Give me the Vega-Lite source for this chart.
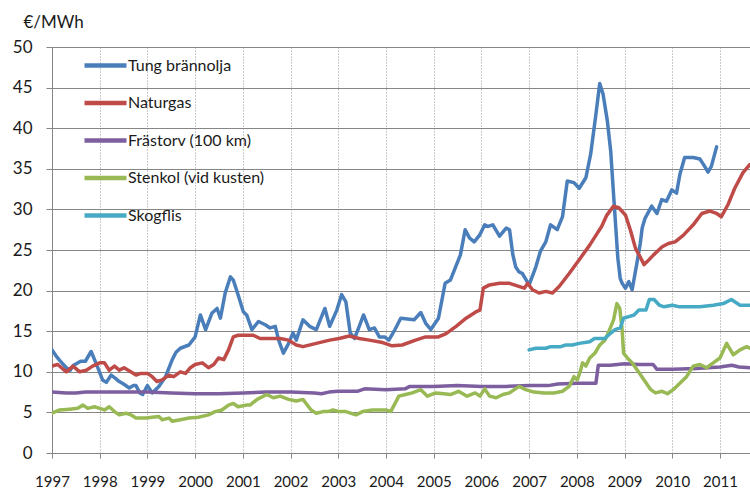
{
  "$schema": "https://vega.github.io/schema/vega-lite/v6.json",
  "autosize": {"type": "none"},
  "padding": {"left": 52, "top": 47, "right": 0, "bottom": 35},
  "width": 698,
  "height": 406,
  "background": "white",
  "config": {
    "view": {"stroke": null},
    "font": "Lato",
    "axis": {"labelFont": "Lato", "titleFont": "Lato", "labelColor": "#1a1a1a", "titleColor": "#1a1a1a"},
    "legend": {"labelFont": "Lato"}
  },
  "data": {"values": [
{"s":"Tung brännolja","t":1997.0,"v":12.7},{"s":"Tung brännolja","t":1997.08,"v":12.0},{"s":"Tung brännolja","t":1997.16,"v":11.4},{"s":"Tung brännolja","t":1997.30,"v":10.5},{"s":"Tung brännolja","t":1997.38,"v":10.2},{"s":"Tung brännolja","t":1997.45,"v":10.8},{"s":"Tung brännolja","t":1997.51,"v":11.0},{"s":"Tung brännolja","t":1997.6,"v":11.3},{"s":"Tung brännolja","t":1997.7,"v":11.3},{"s":"Tung brännolja","t":1997.82,"v":12.5},{"s":"Tung brännolja","t":1997.92,"v":11.1},{"s":"Tung brännolja","t":1998.06,"v":9.0},{"s":"Tung brännolja","t":1998.14,"v":8.7},{"s":"Tung brännolja","t":1998.24,"v":9.6},{"s":"Tung brännolja","t":1998.33,"v":9.2},{"s":"Tung brännolja","t":1998.41,"v":8.8},{"s":"Tung brännolja","t":1998.5,"v":8.5},{"s":"Tung brännolja","t":1998.62,"v":8.0},{"s":"Tung brännolja","t":1998.7,"v":8.3},{"s":"Tung brännolja","t":1998.76,"v":8.3},{"s":"Tung brännolja","t":1998.84,"v":7.4},{"s":"Tung brännolja","t":1998.9,"v":7.2},{"s":"Tung brännolja","t":1999.0,"v":8.3},{"s":"Tung brännolja","t":1999.1,"v":7.4},{"s":"Tung brännolja","t":1999.24,"v":8.2},{"s":"Tung brännolja","t":1999.38,"v":9.4},{"s":"Tung brännolja","t":1999.52,"v":11.5},{"s":"Tung brännolja","t":1999.6,"v":12.4},{"s":"Tung brännolja","t":1999.69,"v":12.9},{"s":"Tung brännolja","t":1999.87,"v":13.3},{"s":"Tung brännolja","t":2000.0,"v":14.3},{"s":"Tung brännolja","t":2000.11,"v":17.0},{"s":"Tung brännolja","t":2000.22,"v":15.2},{"s":"Tung brännolja","t":2000.35,"v":17.2},{"s":"Tung brännolja","t":2000.46,"v":17.8},{"s":"Tung brännolja","t":2000.53,"v":16.6},{"s":"Tung brännolja","t":2000.63,"v":19.7},{"s":"Tung brännolja","t":2000.74,"v":21.7},{"s":"Tung brännolja","t":2000.8,"v":21.3},{"s":"Tung brännolja","t":2000.91,"v":19.3},{"s":"Tung brännolja","t":2001.01,"v":17.4},{"s":"Tung brännolja","t":2001.08,"v":17.0},{"s":"Tung brännolja","t":2001.19,"v":15.2},{"s":"Tung brännolja","t":2001.33,"v":16.2},{"s":"Tung brännolja","t":2001.47,"v":15.8},{"s":"Tung brännolja","t":2001.57,"v":15.4},{"s":"Tung brännolja","t":2001.68,"v":15.6},{"s":"Tung brännolja","t":2001.75,"v":13.9},{"s":"Tung brännolja","t":2001.85,"v":12.3},{"s":"Tung brännolja","t":2001.96,"v":13.5},{"s":"Tung brännolja","t":2002.05,"v":14.8},{"s":"Tung brännolja","t":2002.12,"v":13.9},{"s":"Tung brännolja","t":2002.26,"v":16.4},{"s":"Tung brännolja","t":2002.40,"v":15.6},{"s":"Tung brännolja","t":2002.54,"v":15.2},{"s":"Tung brännolja","t":2002.72,"v":17.8},{"s":"Tung brännolja","t":2002.82,"v":15.6},{"s":"Tung brännolja","t":2002.97,"v":17.6},{"s":"Tung brännolja","t":2003.07,"v":19.5},{"s":"Tung brännolja","t":2003.16,"v":18.6},{"s":"Tung brännolja","t":2003.25,"v":14.8},{"s":"Tung brännolja","t":2003.34,"v":14.1},{"s":"Tung brännolja","t":2003.44,"v":15.6},{"s":"Tung brännolja","t":2003.53,"v":17.0},{"s":"Tung brännolja","t":2003.65,"v":15.2},{"s":"Tung brännolja","t":2003.76,"v":15.4},{"s":"Tung brännolja","t":2003.86,"v":14.3},{"s":"Tung brännolja","t":2003.97,"v":14.3},{"s":"Tung brännolja","t":2004.06,"v":13.9},{"s":"Tung brännolja","t":2004.17,"v":15.0},{"s":"Tung brännolja","t":2004.31,"v":16.6},{"s":"Tung brännolja","t":2004.45,"v":16.5},{"s":"Tung brännolja","t":2004.59,"v":16.4},{"s":"Tung brännolja","t":2004.73,"v":17.3},{"s":"Tung brännolja","t":2004.83,"v":16.0},{"s":"Tung brännolja","t":2004.94,"v":15.2},{"s":"Tung brännolja","t":2005.10,"v":16.6},{"s":"Tung brännolja","t":2005.24,"v":20.9},{"s":"Tung brännolja","t":2005.35,"v":21.3},{"s":"Tung brännolja","t":2005.56,"v":24.4},{"s":"Tung brännolja","t":2005.66,"v":27.5},{"s":"Tung brännolja","t":2005.75,"v":26.5},{"s":"Tung brännolja","t":2005.85,"v":26.0},{"s":"Tung brännolja","t":2005.97,"v":26.9},{"s":"Tung brännolja","t":2006.07,"v":28.1},{"s":"Tung brännolja","t":2006.14,"v":27.9},{"s":"Tung brännolja","t":2006.24,"v":28.1},{"s":"Tung brännolja","t":2006.38,"v":26.7},{"s":"Tung brännolja","t":2006.52,"v":27.7},{"s":"Tung brännolja","t":2006.59,"v":27.5},{"s":"Tung brännolja","t":2006.66,"v":24.4},{"s":"Tung brännolja","t":2006.72,"v":22.9},{"s":"Tung brännolja","t":2006.79,"v":22.3},{"s":"Tung brännolja","t":2006.86,"v":22.1},{"s":"Tung brännolja","t":2007.0,"v":20.7},{"s":"Tung brännolja","t":2007.14,"v":22.9},{"s":"Tung brännolja","t":2007.24,"v":24.9},{"s":"Tung brännolja","t":2007.35,"v":26.0},{"s":"Tung brännolja","t":2007.45,"v":28.1},{"s":"Tung brännolja","t":2007.59,"v":27.5},{"s":"Tung brännolja","t":2007.70,"v":29.1},{"s":"Tung brännolja","t":2007.80,"v":33.5},{"s":"Tung brännolja","t":2007.94,"v":33.3},{"s":"Tung brännolja","t":2008.05,"v":32.6},{"s":"Tung brännolja","t":2008.19,"v":33.9},{"s":"Tung brännolja","t":2008.29,"v":36.8},{"s":"Tung brännolja","t":2008.40,"v":41.7},{"s":"Tung brännolja","t":2008.48,"v":45.5},{"s":"Tung brännolja","t":2008.55,"v":44.2},{"s":"Tung brännolja","t":2008.64,"v":40.9},{"s":"Tung brännolja","t":2008.71,"v":37.2},{"s":"Tung brännolja","t":2008.78,"v":31.0},{"s":"Tung brännolja","t":2008.86,"v":24.0},{"s":"Tung brännolja","t":2008.91,"v":21.5},{"s":"Tung brännolja","t":2008.95,"v":20.9},{"s":"Tung brännolja","t":2009.02,"v":20.3},{"s":"Tung brännolja","t":2009.09,"v":21.1},{"s":"Tung brännolja","t":2009.16,"v":20.1},{"s":"Tung brännolja","t":2009.26,"v":23.4},{"s":"Tung brännolja","t":2009.33,"v":25.8},{"s":"Tung brännolja","t":2009.37,"v":27.7},{"s":"Tung brännolja","t":2009.43,"v":28.9},{"s":"Tung brännolja","t":2009.57,"v":30.4},{"s":"Tung brännolja","t":2009.68,"v":29.5},{"s":"Tung brännolja","t":2009.78,"v":31.2},{"s":"Tung brännolja","t":2009.88,"v":31.0},{"s":"Tung brännolja","t":2009.99,"v":32.4},{"s":"Tung brännolja","t":2010.09,"v":32.0},{"s":"Tung brännolja","t":2010.16,"v":34.3},{"s":"Tung brännolja","t":2010.26,"v":36.4},{"s":"Tung brännolja","t":2010.44,"v":36.4},{"s":"Tung brännolja","t":2010.58,"v":36.2},{"s":"Tung brännolja","t":2010.68,"v":35.3},{"s":"Tung brännolja","t":2010.75,"v":34.6},{"s":"Tung brännolja","t":2010.82,"v":35.3},{"s":"Tung brännolja","t":2010.93,"v":37.7},
{"s":"Naturgas","t":1997.0,"v":10.7},{"s":"Naturgas","t":1997.12,"v":10.9},{"s":"Naturgas","t":1997.3,"v":10.0},{"s":"Naturgas","t":1997.44,"v":10.7},{"s":"Naturgas","t":1997.58,"v":10.0},{"s":"Naturgas","t":1997.72,"v":10.2},{"s":"Naturgas","t":1997.85,"v":10.7},{"s":"Naturgas","t":1998.0,"v":11.1},{"s":"Naturgas","t":1998.1,"v":11.1},{"s":"Naturgas","t":1998.2,"v":10.2},{"s":"Naturgas","t":1998.31,"v":10.7},{"s":"Naturgas","t":1998.41,"v":10.2},{"s":"Naturgas","t":1998.51,"v":10.5},{"s":"Naturgas","t":1998.65,"v":10.0},{"s":"Naturgas","t":1998.76,"v":9.6},{"s":"Naturgas","t":1998.86,"v":9.8},{"s":"Naturgas","t":1999.0,"v":9.8},{"s":"Naturgas","t":1999.1,"v":9.4},{"s":"Naturgas","t":1999.2,"v":8.8},{"s":"Naturgas","t":1999.31,"v":9.0},{"s":"Naturgas","t":1999.45,"v":9.6},{"s":"Naturgas","t":1999.55,"v":9.4},{"s":"Naturgas","t":1999.69,"v":10.0},{"s":"Naturgas","t":1999.8,"v":9.8},{"s":"Naturgas","t":1999.9,"v":10.5},{"s":"Naturgas","t":2000.0,"v":10.9},{"s":"Naturgas","t":2000.15,"v":11.1},{"s":"Naturgas","t":2000.28,"v":10.5},{"s":"Naturgas","t":2000.39,"v":10.9},{"s":"Naturgas","t":2000.49,"v":11.7},{"s":"Naturgas","t":2000.6,"v":11.5},{"s":"Naturgas","t":2000.7,"v":12.7},{"s":"Naturgas","t":2000.8,"v":14.3},{"s":"Naturgas","t":2000.9,"v":14.5},{"s":"Naturgas","t":2001.08,"v":14.5},{"s":"Naturgas","t":2001.22,"v":14.5},{"s":"Naturgas","t":2001.36,"v":14.1},{"s":"Naturgas","t":2001.57,"v":14.1},{"s":"Naturgas","t":2001.78,"v":14.1},{"s":"Naturgas","t":2001.96,"v":13.9},{"s":"Naturgas","t":2002.12,"v":13.3},{"s":"Naturgas","t":2002.26,"v":13.1},{"s":"Naturgas","t":2002.54,"v":13.5},{"s":"Naturgas","t":2002.82,"v":13.9},{"s":"Naturgas","t":2003.02,"v":14.1},{"s":"Naturgas","t":2003.23,"v":14.4},{"s":"Naturgas","t":2003.44,"v":14.1},{"s":"Naturgas","t":2003.65,"v":13.9},{"s":"Naturgas","t":2003.93,"v":13.6},{"s":"Naturgas","t":2004.13,"v":13.2},{"s":"Naturgas","t":2004.34,"v":13.3},{"s":"Naturgas","t":2004.62,"v":13.9},{"s":"Naturgas","t":2004.83,"v":14.3},{"s":"Naturgas","t":2005.1,"v":14.3},{"s":"Naturgas","t":2005.26,"v":14.7},{"s":"Naturgas","t":2005.47,"v":15.6},{"s":"Naturgas","t":2005.68,"v":16.6},{"s":"Naturgas","t":2005.89,"v":17.4},{"s":"Naturgas","t":2005.97,"v":17.6},{"s":"Naturgas","t":2006.04,"v":20.3},{"s":"Naturgas","t":2006.17,"v":20.7},{"s":"Naturgas","t":2006.38,"v":20.9},{"s":"Naturgas","t":2006.59,"v":20.9},{"s":"Naturgas","t":2006.8,"v":20.5},{"s":"Naturgas","t":2006.9,"v":20.3},{"s":"Naturgas","t":2006.97,"v":20.9},{"s":"Naturgas","t":2007.07,"v":20.1},{"s":"Naturgas","t":2007.21,"v":19.7},{"s":"Naturgas","t":2007.35,"v":19.9},{"s":"Naturgas","t":2007.49,"v":19.7},{"s":"Naturgas","t":2007.63,"v":20.5},{"s":"Naturgas","t":2007.84,"v":22.1},{"s":"Naturgas","t":2008.05,"v":23.8},{"s":"Naturgas","t":2008.27,"v":25.6},{"s":"Naturgas","t":2008.41,"v":26.9},{"s":"Naturgas","t":2008.52,"v":27.9},{"s":"Naturgas","t":2008.63,"v":29.3},{"s":"Naturgas","t":2008.77,"v":30.4},{"s":"Naturgas","t":2008.88,"v":30.2},{"s":"Naturgas","t":2009.02,"v":29.3},{"s":"Naturgas","t":2009.13,"v":27.3},{"s":"Naturgas","t":2009.23,"v":25.2},{"s":"Naturgas","t":2009.34,"v":24.0},{"s":"Naturgas","t":2009.41,"v":23.2},{"s":"Naturgas","t":2009.48,"v":23.6},{"s":"Naturgas","t":2009.61,"v":24.4},{"s":"Naturgas","t":2009.79,"v":25.4},{"s":"Naturgas","t":2009.92,"v":25.8},{"s":"Naturgas","t":2010.06,"v":26.0},{"s":"Naturgas","t":2010.23,"v":26.8},{"s":"Naturgas","t":2010.44,"v":28.1},{"s":"Naturgas","t":2010.62,"v":29.5},{"s":"Naturgas","t":2010.79,"v":29.8},{"s":"Naturgas","t":2010.93,"v":29.5},{"s":"Naturgas","t":2011.03,"v":29.1},{"s":"Naturgas","t":2011.17,"v":30.6},{"s":"Naturgas","t":2011.31,"v":32.6},{"s":"Naturgas","t":2011.48,"v":34.5},{"s":"Naturgas","t":2011.62,"v":35.5},
{"s":"Frästorv (100 km)","t":1997.0,"v":7.5},{"s":"Frästorv (100 km)","t":1997.3,"v":7.4},{"s":"Frästorv (100 km)","t":1997.5,"v":7.4},{"s":"Frästorv (100 km)","t":1997.7,"v":7.5},{"s":"Frästorv (100 km)","t":1998.0,"v":7.5},{"s":"Frästorv (100 km)","t":1998.5,"v":7.5},{"s":"Frästorv (100 km)","t":1999.0,"v":7.5},{"s":"Frästorv (100 km)","t":1999.5,"v":7.4},{"s":"Frästorv (100 km)","t":2000.0,"v":7.3},{"s":"Frästorv (100 km)","t":2000.5,"v":7.3},{"s":"Frästorv (100 km)","t":2001.0,"v":7.4},{"s":"Frästorv (100 km)","t":2001.5,"v":7.5},{"s":"Frästorv (100 km)","t":2002.0,"v":7.5},{"s":"Frästorv (100 km)","t":2002.5,"v":7.4},{"s":"Frästorv (100 km)","t":2002.65,"v":7.3},{"s":"Frästorv (100 km)","t":2002.8,"v":7.5},{"s":"Frästorv (100 km)","t":2003.0,"v":7.6},{"s":"Frästorv (100 km)","t":2003.4,"v":7.6},{"s":"Frästorv (100 km)","t":2003.55,"v":7.9},{"s":"Frästorv (100 km)","t":2004.0,"v":7.8},{"s":"Frästorv (100 km)","t":2004.4,"v":7.9},{"s":"Frästorv (100 km)","t":2004.5,"v":8.2},{"s":"Frästorv (100 km)","t":2005.0,"v":8.2},{"s":"Frästorv (100 km)","t":2005.5,"v":8.3},{"s":"Frästorv (100 km)","t":2006.0,"v":8.2},{"s":"Frästorv (100 km)","t":2006.5,"v":8.2},{"s":"Frästorv (100 km)","t":2007.0,"v":8.3},{"s":"Frästorv (100 km)","t":2007.4,"v":8.3},{"s":"Frästorv (100 km)","t":2007.6,"v":8.5},{"s":"Frästorv (100 km)","t":2008.0,"v":8.6},{"s":"Frästorv (100 km)","t":2008.4,"v":8.6},{"s":"Frästorv (100 km)","t":2008.45,"v":10.8},{"s":"Frästorv (100 km)","t":2008.7,"v":10.8},{"s":"Frästorv (100 km)","t":2009.0,"v":11.0},{"s":"Frästorv (100 km)","t":2009.3,"v":10.9},{"s":"Frästorv (100 km)","t":2009.6,"v":10.9},{"s":"Frästorv (100 km)","t":2009.68,"v":10.3},{"s":"Frästorv (100 km)","t":2010.0,"v":10.3},{"s":"Frästorv (100 km)","t":2010.5,"v":10.4},{"s":"Frästorv (100 km)","t":2011.0,"v":10.6},{"s":"Frästorv (100 km)","t":2011.25,"v":10.8},{"s":"Frästorv (100 km)","t":2011.4,"v":10.6},{"s":"Frästorv (100 km)","t":2011.63,"v":10.5},
{"s":"Stenkol (vid kusten)","t":1997.0,"v":4.9},{"s":"Stenkol (vid kusten)","t":1997.16,"v":5.3},{"s":"Stenkol (vid kusten)","t":1997.37,"v":5.4},{"s":"Stenkol (vid kusten)","t":1997.54,"v":5.5},{"s":"Stenkol (vid kusten)","t":1997.65,"v":5.9},{"s":"Stenkol (vid kusten)","t":1997.75,"v":5.5},{"s":"Stenkol (vid kusten)","t":1997.89,"v":5.7},{"s":"Stenkol (vid kusten)","t":1998.0,"v":5.5},{"s":"Stenkol (vid kusten)","t":1998.1,"v":5.3},{"s":"Stenkol (vid kusten)","t":1998.2,"v":5.7},{"s":"Stenkol (vid kusten)","t":1998.31,"v":5.1},{"s":"Stenkol (vid kusten)","t":1998.41,"v":4.7},{"s":"Stenkol (vid kusten)","t":1998.55,"v":4.9},{"s":"Stenkol (vid kusten)","t":1998.65,"v":4.7},{"s":"Stenkol (vid kusten)","t":1998.76,"v":4.3},{"s":"Stenkol (vid kusten)","t":1998.97,"v":4.3},{"s":"Stenkol (vid kusten)","t":1999.1,"v":4.4},{"s":"Stenkol (vid kusten)","t":1999.24,"v":4.5},{"s":"Stenkol (vid kusten)","t":1999.31,"v":4.1},{"s":"Stenkol (vid kusten)","t":1999.45,"v":4.3},{"s":"Stenkol (vid kusten)","t":1999.52,"v":3.9},{"s":"Stenkol (vid kusten)","t":1999.69,"v":4.1},{"s":"Stenkol (vid kusten)","t":1999.87,"v":4.3},{"s":"Stenkol (vid kusten)","t":2000.07,"v":4.4},{"s":"Stenkol (vid kusten)","t":2000.28,"v":4.7},{"s":"Stenkol (vid kusten)","t":2000.42,"v":5.1},{"s":"Stenkol (vid kusten)","t":2000.56,"v":5.3},{"s":"Stenkol (vid kusten)","t":2000.7,"v":5.9},{"s":"Stenkol (vid kusten)","t":2000.8,"v":6.1},{"s":"Stenkol (vid kusten)","t":2000.9,"v":5.7},{"s":"Stenkol (vid kusten)","t":2001.08,"v":5.9},{"s":"Stenkol (vid kusten)","t":2001.15,"v":5.9},{"s":"Stenkol (vid kusten)","t":2001.3,"v":6.6},{"s":"Stenkol (vid kusten)","t":2001.5,"v":7.2},{"s":"Stenkol (vid kusten)","t":2001.64,"v":6.8},{"s":"Stenkol (vid kusten)","t":2001.78,"v":7.0},{"s":"Stenkol (vid kusten)","t":2001.96,"v":6.6},{"s":"Stenkol (vid kusten)","t":2002.12,"v":6.4},{"s":"Stenkol (vid kusten)","t":2002.26,"v":6.6},{"s":"Stenkol (vid kusten)","t":2002.43,"v":5.3},{"s":"Stenkol (vid kusten)","t":2002.54,"v":4.9},{"s":"Stenkol (vid kusten)","t":2002.68,"v":5.1},{"s":"Stenkol (vid kusten)","t":2002.78,"v":5.1},{"s":"Stenkol (vid kusten)","t":2002.89,"v":5.3},{"s":"Stenkol (vid kusten)","t":2003.02,"v":5.1},{"s":"Stenkol (vid kusten)","t":2003.16,"v":5.1},{"s":"Stenkol (vid kusten)","t":2003.37,"v":4.7},{"s":"Stenkol (vid kusten)","t":2003.51,"v":5.1},{"s":"Stenkol (vid kusten)","t":2003.72,"v":5.3},{"s":"Stenkol (vid kusten)","t":2004.0,"v":5.3},{"s":"Stenkol (vid kusten)","t":2004.1,"v":5.1},{"s":"Stenkol (vid kusten)","t":2004.27,"v":7.0},{"s":"Stenkol (vid kusten)","t":2004.41,"v":7.2},{"s":"Stenkol (vid kusten)","t":2004.55,"v":7.4},{"s":"Stenkol (vid kusten)","t":2004.73,"v":7.8},{"s":"Stenkol (vid kusten)","t":2004.87,"v":7.0},{"s":"Stenkol (vid kusten)","t":2005.04,"v":7.4},{"s":"Stenkol (vid kusten)","t":2005.21,"v":7.3},{"s":"Stenkol (vid kusten)","t":2005.35,"v":7.2},{"s":"Stenkol (vid kusten)","t":2005.52,"v":7.6},{"s":"Stenkol (vid kusten)","t":2005.7,"v":7.0},{"s":"Stenkol (vid kusten)","t":2005.87,"v":7.4},{"s":"Stenkol (vid kusten)","t":2005.97,"v":7.0},{"s":"Stenkol (vid kusten)","t":2006.07,"v":7.9},{"s":"Stenkol (vid kusten)","t":2006.17,"v":7.0},{"s":"Stenkol (vid kusten)","t":2006.31,"v":6.8},{"s":"Stenkol (vid kusten)","t":2006.45,"v":7.2},{"s":"Stenkol (vid kusten)","t":2006.59,"v":7.4},{"s":"Stenkol (vid kusten)","t":2006.69,"v":7.8},{"s":"Stenkol (vid kusten)","t":2006.79,"v":8.2},{"s":"Stenkol (vid kusten)","t":2006.93,"v":7.8},{"s":"Stenkol (vid kusten)","t":2007.1,"v":7.5},{"s":"Stenkol (vid kusten)","t":2007.31,"v":7.4},{"s":"Stenkol (vid kusten)","t":2007.52,"v":7.4},{"s":"Stenkol (vid kusten)","t":2007.7,"v":7.6},{"s":"Stenkol (vid kusten)","t":2007.84,"v":8.2},{"s":"Stenkol (vid kusten)","t":2007.94,"v":9.4},{"s":"Stenkol (vid kusten)","t":2008.01,"v":9.0},{"s":"Stenkol (vid kusten)","t":2008.08,"v":10.2},{"s":"Stenkol (vid kusten)","t":2008.12,"v":11.1},{"s":"Stenkol (vid kusten)","t":2008.19,"v":10.7},{"s":"Stenkol (vid kusten)","t":2008.27,"v":11.7},{"s":"Stenkol (vid kusten)","t":2008.38,"v":12.3},{"s":"Stenkol (vid kusten)","t":2008.48,"v":13.3},{"s":"Stenkol (vid kusten)","t":2008.59,"v":13.9},{"s":"Stenkol (vid kusten)","t":2008.66,"v":14.8},{"s":"Stenkol (vid kusten)","t":2008.77,"v":16.4},{"s":"Stenkol (vid kusten)","t":2008.84,"v":18.4},{"s":"Stenkol (vid kusten)","t":2008.9,"v":17.8},{"s":"Stenkol (vid kusten)","t":2008.95,"v":15.2},{"s":"Stenkol (vid kusten)","t":2008.98,"v":12.3},{"s":"Stenkol (vid kusten)","t":2009.06,"v":11.7},{"s":"Stenkol (vid kusten)","t":2009.16,"v":11.1},{"s":"Stenkol (vid kusten)","t":2009.27,"v":10.2},{"s":"Stenkol (vid kusten)","t":2009.41,"v":9.0},{"s":"Stenkol (vid kusten)","t":2009.55,"v":7.8},{"s":"Stenkol (vid kusten)","t":2009.65,"v":7.4},{"s":"Stenkol (vid kusten)","t":2009.79,"v":7.6},{"s":"Stenkol (vid kusten)","t":2009.9,"v":7.3},{"s":"Stenkol (vid kusten)","t":2010.02,"v":7.8},{"s":"Stenkol (vid kusten)","t":2010.16,"v":8.6},{"s":"Stenkol (vid kusten)","t":2010.3,"v":9.4},{"s":"Stenkol (vid kusten)","t":2010.44,"v":10.7},{"s":"Stenkol (vid kusten)","t":2010.58,"v":10.9},{"s":"Stenkol (vid kusten)","t":2010.72,"v":10.5},{"s":"Stenkol (vid kusten)","t":2010.86,"v":11.1},{"s":"Stenkol (vid kusten)","t":2011.0,"v":11.7},{"s":"Stenkol (vid kusten)","t":2011.14,"v":13.5},{"s":"Stenkol (vid kusten)","t":2011.28,"v":12.1},{"s":"Stenkol (vid kusten)","t":2011.42,"v":12.7},{"s":"Stenkol (vid kusten)","t":2011.56,"v":13.1},{"s":"Stenkol (vid kusten)","t":2011.63,"v":12.9},
{"s":"Skogflis","t":2007.0,"v":12.7},{"s":"Skogflis","t":2007.14,"v":12.9},{"s":"Skogflis","t":2007.35,"v":12.9},{"s":"Skogflis","t":2007.45,"v":13.1},{"s":"Skogflis","t":2007.66,"v":13.1},{"s":"Skogflis","t":2007.77,"v":13.3},{"s":"Skogflis","t":2007.91,"v":13.3},{"s":"Skogflis","t":2008.05,"v":13.5},{"s":"Skogflis","t":2008.27,"v":13.7},{"s":"Skogflis","t":2008.37,"v":14.1},{"s":"Skogflis","t":2008.59,"v":14.1},{"s":"Skogflis","t":2008.66,"v":14.5},{"s":"Skogflis","t":2008.8,"v":15.2},{"s":"Skogflis","t":2008.91,"v":15.4},{"s":"Skogflis","t":2008.98,"v":16.6},{"s":"Skogflis","t":2009.09,"v":16.8},{"s":"Skogflis","t":2009.2,"v":17.0},{"s":"Skogflis","t":2009.3,"v":17.6},{"s":"Skogflis","t":2009.45,"v":17.6},{"s":"Skogflis","t":2009.52,"v":18.9},{"s":"Skogflis","t":2009.62,"v":18.9},{"s":"Skogflis","t":2009.73,"v":18.2},{"s":"Skogflis","t":2009.83,"v":18.0},{"s":"Skogflis","t":2010.0,"v":18.2},{"s":"Skogflis","t":2010.16,"v":18.0},{"s":"Skogflis","t":2010.37,"v":18.0},{"s":"Skogflis","t":2010.58,"v":18.0},{"s":"Skogflis","t":2010.86,"v":18.2},{"s":"Skogflis","t":2011.07,"v":18.4},{"s":"Skogflis","t":2011.24,"v":18.9},{"s":"Skogflis","t":2011.42,"v":18.2},{"s":"Skogflis","t":2011.63,"v":18.2}
  ]},
  "mark": {"type": "line", "strokeWidth": 3.5, "clip": true, "strokeJoin": "round", "strokeCap": "round"},
  "encoding": {
    "x": {
      "field": "t", "type": "quantitative",
      "scale": {"domain": [1997, 2011.63], "nice": false, "zero": false},
      "axis": {
        "title": null, "values": [1997,1998,1999,2000,2001,2002,2003,2004,2005,2006,2007,2008,2009,2010,2011],
        "format": "d", "labelFontSize": 15, "labelPadding": 16, "tickSize": 5,
        "tickColor": "#868686", "domainColor": "#868686",
        "grid": true, "gridColor": "#999999", "gridDash": [1, 2], "gridWidth": 1,
        "labelOverlap": false, "labelFlush": false
      }
    },
    "y": {
      "field": "v", "type": "quantitative",
      "scale": {"domain": [0, 50], "nice": false},
      "axis": {
        "title": "€/MWh", "titleAngle": 0, "titleAlign": "left", "titleBaseline": "alphabetic",
        "titleX": -29, "titleY": -20, "titleFontSize": 17, "titleFontWeight": "normal",
        "values": [0,5,10,15,20,25,30,35,40,45,50], "labelFontSize": 17, "labelPadding": 14,
        "tickSize": 6, "tickColor": "#868686", "domainColor": "#868686",
        "grid": true, "gridColor": "#868686", "gridWidth": 1
      }
    },
    "color": {
      "field": "s", "type": "nominal",
      "scale": {
        "domain": ["Tung brännolja", "Naturgas", "Frästorv (100 km)", "Stenkol (vid kusten)", "Skogflis"],
        "range": ["#4a7ebb", "#be4b48", "#7d5fa0", "#98b954", "#46aac5"]
      },
      "legend": {
        "title": null, "orient": "none", "legendX": 30, "legendY": -5,
        "symbolType": "stroke", "symbolSize": 1764, "symbolStrokeWidth": 4.5,
        "labelFontSize": 16, "labelColor": "#1a1a1a", "labelOffset": -1, "rowPadding": 4.5
      }
    }
  }
}
